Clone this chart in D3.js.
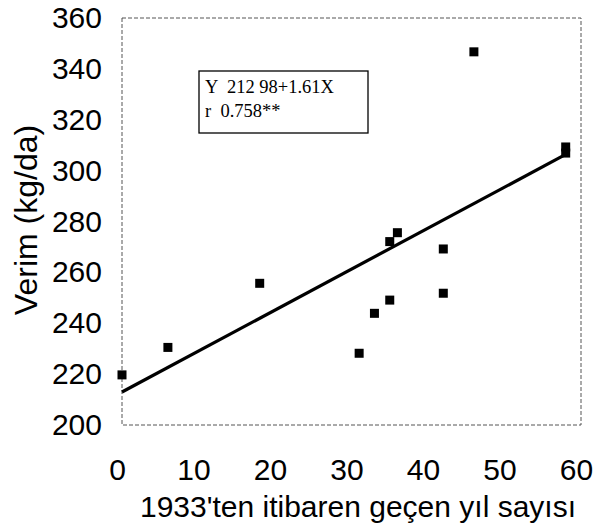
<!DOCTYPE html>
<html lang="tr">
<head>
<meta charset="UTF-8">
<script src="https://d3js.org/d3.v7.min.js"></script>
<style>
  body { margin: 0; background: #fff; }
  svg text { font-family: "Liberation Sans", Arial, sans-serif; fill: #000; }
</style>
</head>
<body>
<div id="chart"></div>
<script>
  const width = 593;
  const height = 528;

  // years since 1933 and yield (kg/da)
  const years = [0, 6, 18, 31, 33, 35, 35, 36, 42, 42, 46, 58, 58];
  const yields = [219.7, 230.5, 255.7, 228.2, 243.9, 249.1, 272.1, 275.6, 251.8, 269.2, 346.7, 309.3, 306.9];

  const xTicks = [0, 10, 20, 30, 40, 50, 60];
  const yTicks = [200, 220, 240, 260, 280, 300, 320, 340, 360];

  // regression given in the chart
  const intercept = 212.98;
  const slope = 1.61;
  const lineRange = [0, 58];
  const equationLines = ["Y  212 98+1.61X", "r  0.758**"];

  const points = years.map((x, i) => ({ x: x, y: yields[i] }));

  const svg = d3.select("#chart").append("svg")
    .attr("width", width)
    .attr("height", height);

  const x = d3.scaleLinear().domain([0, 60]).range([122, 581]);
  const y = d3.scaleLinear().domain([200, 360]).range([425, 18]);

  // dashed plot frame
  svg.append("rect")
    .attr("x", x(0))
    .attr("y", y(360))
    .attr("width", x(60) - x(0))
    .attr("height", y(200) - y(360))
    .attr("fill", "none")
    .attr("stroke", "#555")
    .attr("stroke-width", 1)
    .attr("stroke-dasharray", "4,2");

  // y axis labels
  const yAxis = d3.axisLeft(y).tickValues(yTicks).tickSize(0).tickPadding(20);
  const gy = svg.append("g")
    .attr("transform", `translate(${x(0)},0)`)
    .call(yAxis);
  gy.select(".domain").remove();
  gy.selectAll("text")
    .style("font-size", "30px")
    .attr("font-family", null);

  // x axis labels
  const xAxis = d3.axisBottom(x).tickValues(xTicks).tickSize(0).tickPadding(34);
  const gx = svg.append("g")
    .attr("transform", `translate(-5,${y(200)})`)
    .call(xAxis);
  gx.select(".domain").remove();
  gx.selectAll("text")
    .style("font-size", "30px")
    .attr("font-family", null);

  // axis titles
  svg.append("text")
    .attr("x", 358)
    .attr("y", 517)
    .attr("text-anchor", "middle")
    .style("font-size", "30px")
    .text("1933'ten itibaren geçen yıl sayısı");

  svg.append("text")
    .attr("transform", "translate(37,220) rotate(-90)")
    .attr("text-anchor", "middle")
    .style("font-size", "32px")
    .text("Verim (kg/da)");

  // regression line
  svg.append("line")
    .attr("x1", x(lineRange[0]))
    .attr("y1", y(intercept + slope * lineRange[0]))
    .attr("x2", x(lineRange[1]))
    .attr("y2", y(intercept + slope * lineRange[1]))
    .attr("stroke", "#000")
    .attr("stroke-width", 3.2);

  // data points
  const size = 9;
  svg.selectAll(".pt")
    .data(points)
    .enter().append("rect")
    .attr("class", "pt")
    .attr("x", d => x(d.x) - size / 2)
    .attr("y", d => y(d.y) - size / 2)
    .attr("width", size)
    .attr("height", size)
    .attr("fill", "#000");

  // equation box
  const box = svg.append("g").attr("transform", "translate(199,71)");
  box.append("rect")
    .attr("width", 169)
    .attr("height", 62)
    .attr("fill", "#fff")
    .attr("stroke", "#000")
    .attr("stroke-width", 1.3);
  box.selectAll("text")
    .data(equationLines)
    .enter().append("text")
    .attr("x", 6)
    .attr("y", (d, i) => 22 + i * 24)
    .style("white-space", "pre")
    .style("font-family", "'Liberation Serif', 'Times New Roman', serif")
    .style("font-size", "18.5px")
    .text(d => d);
</script>
</body>
</html>
